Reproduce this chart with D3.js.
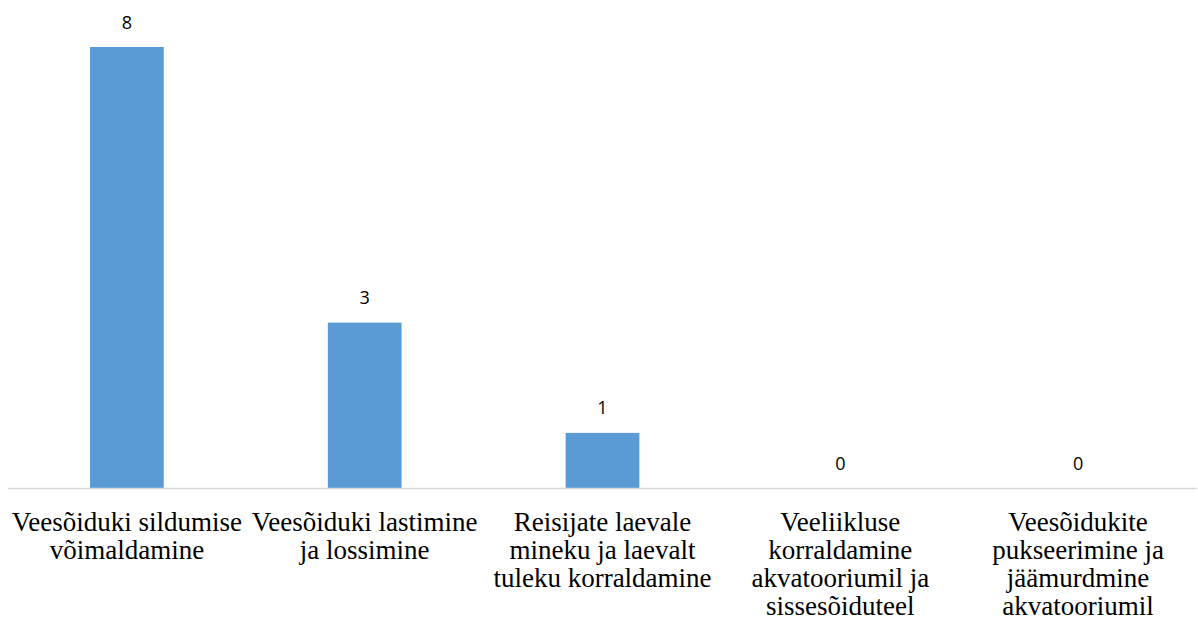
<html>
<head>
  <meta charset="utf-8">
  <title>Chart</title>
  <style>
  body {
    margin: 0;
    background: #fff;
  }
  .cat {
    font-family: "Liberation Serif", "Times New Roman", serif;
    font-size: 27px;
    fill: #000;
  }
  .val {
    font-family: "Open Sans", "DejaVu Sans", sans-serif;
    font-size: 18px;
    fill: #000;
  }
  </style>
</head>
<body>
<div id="chart"></div>
<script src="https://d3js.org/d3.v7.min.js"></script>
<script>
var categories = [
  "Veesõiduki sildumise võimaldamine",
  "Veesõiduki lastimine ja lossimine",
  "Reisijate laevale mineku ja laevalt tuleku korraldamine",
  "Veeliikluse korraldamine akvatooriumil ja sissesõiduteel",
  "Veesõidukite pukseerimine ja jäämurdmine akvatooriumil"
]
var labelLines = [
  ["Veesõiduki sildumise", "võimaldamine"],
  ["Veesõiduki lastimine", "ja lossimine"],
  ["Reisijate laevale", "mineku ja laevalt", "tuleku korraldamine"],
  ["Veeliikluse", "korraldamine", "akvatooriumil ja", "sissesõiduteel"],
  ["Veesõidukite", "pukseerimine ja", "jäämurdmine", "akvatooriumil"]
]
var values = [8, 3, 1, 0, 0]

var width = 1198, height = 623
var baseline = 488, plotTop = 47

var svg = d3.select("#chart").append("svg")
  .attr("width", width)
  .attr("height", height)

var x = d3.scaleBand()
  .domain(categories)
  .range([8, 1197])
  .paddingInner(0.69)
  .paddingOuter(0.345)

var y = d3.scaleLinear()
  .domain([0, 8])
  .range([baseline, plotTop])

// bars
svg.selectAll("rect.bar")
  .data(values)
  .enter().append("rect")
  .attr("class", "bar")
  .attr("x", function(d, i) { return x(categories[i]) })
  .attr("width", x.bandwidth())
  .attr("y", function(d) { return y(d) })
  .attr("height", function(d) { return baseline - y(d) })
  .style("fill", "#5b9bd5")

// axis line
svg.append("line")
  .attr("x1", 8).attr("x2", 1197)
  .attr("y1", baseline + 0.5).attr("y2", baseline + 0.5)
  .style("stroke", "#d9d9d9")
  .style("stroke-width", 1.5)

// value labels
svg.selectAll("text.val")
  .data(values)
  .enter().append("text")
  .attr("class", "val")
  .attr("text-anchor", "middle")
  .attr("x", function(d, i) { return x(categories[i]) + x.bandwidth() / 2 })
  .attr("y", function(d) { return y(d) - 18.5 })
  .text(function(d) { return d })

// category labels
labelLines.forEach(function(lines, i) {
  var cx = x(categories[i]) + x.bandwidth() / 2
  var t = svg.append("text")
    .attr("class", "cat")
    .attr("text-anchor", "middle")
  lines.forEach(function(line, j) {
    t.append("tspan")
      .attr("x", cx)
      .attr("y", 531 + j * 28)
      .text(line)
  })
})
</script>
</body>
</html>
